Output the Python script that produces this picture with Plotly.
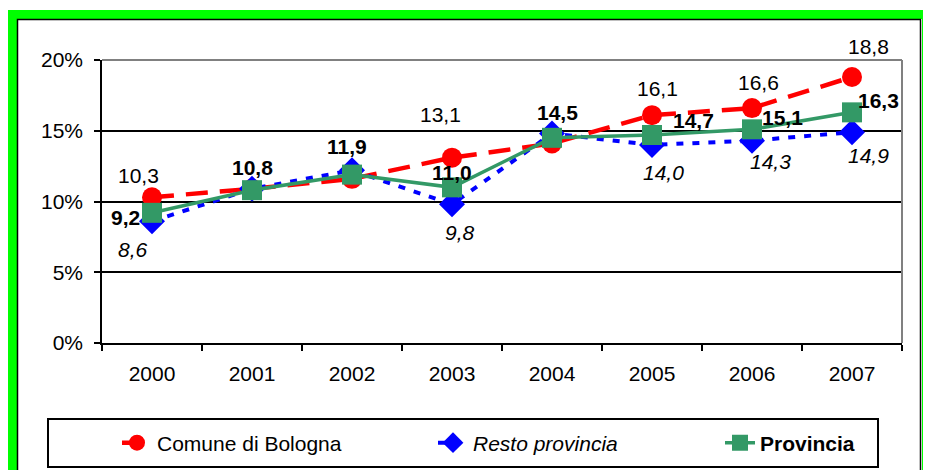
import plotly.graph_objects as go

years = ["2000", "2001", "2002", "2003", "2004", "2005", "2006", "2007"]
comune = [10.3, 10.9, 11.6, 13.1, 14.1, 16.1, 16.6, 18.8]
resto = [8.6, 10.9, 12.2, 9.8, 14.8, 14.0, 14.3, 14.9]
provincia = [9.2, 10.8, 11.9, 11.0, 14.5, 14.7, 15.1, 16.3]
y_ticks = [0, 5, 10, 15, 20]
y_tick_labels = [f"{v}%" for v in y_ticks]

# which points carry a data label
comune_labeled = [0, 3, 5, 6, 7]
resto_labeled = [0, 3, 5, 6, 7]
provincia_labeled = [0, 1, 2, 3, 4, 5, 6, 7]

# label offsets in pixels (style only)
comune_off = {0: (-14, 22), 3: (-12, 43), 5: (5, 27), 6: (6, 26), 7: (16, 30)}
resto_off = {0: (-19, -28), 3: (8, -28), 5: (11, -28), 6: (18, -21), 7: (16, -23)}
prov_off = {0: (-27, -5), 1: (0, 23), 2: (-5, 28), 3: (0, 15), 4: (5, 25),
            5: (41, 15), 6: (30, 12), 7: (26, 12)}

RED = "#FF0000"
BLUE = "#0000FF"
GREEN = "#339966"
FONT = "Liberation Sans, Arial, sans-serif"
FS = 21

def fmt(v):
    return f"{v:.1f}".replace(".", ",")

# page body has an 8px margin: figure is sized/positioned to fill the window
OFF = 8
W, H = 931 - OFF, 470 - OFF
L, R, T, B = 102 - OFF, 29, 60 - OFF, 127
PW, PH = W - L - R, H - T - B

def px_x(p):  # screen px -> paper x
    return (p - OFF - L) / PW

def px_y(p):  # screen px -> paper y
    return (H - B - (p - OFF)) / PH

fig = go.Figure()
fig.add_trace(go.Scatter(
    x=years, y=comune, name="Comune di Bologna", mode="lines+markers",
    line=dict(color=RED, width=4.5, dash="22px,12px"),
    marker=dict(symbol="circle", size=20, color=RED), legend="legend"))
fig.add_trace(go.Scatter(
    x=years, y=resto, name="<i>Resto provincia</i>", mode="lines+markers",
    line=dict(color=BLUE, width=4, dash="7px,9px"),
    marker=dict(symbol="diamond", size=20, color=BLUE), legend="legend2"))
fig.add_trace(go.Scatter(
    x=years, y=provincia, name="<b>Provincia</b>", mode="lines+markers",
    line=dict(color=GREEN, width=3.5),
    marker=dict(symbol="square", size=20, color=GREEN), legend="legend3"))

annotations = []
# annotation x uses the category's serial index on the category axis
for idx in comune_labeled:
    dx, dy = comune_off[idx]
    annotations.append(dict(x=idx, y=comune[idx], text=fmt(comune[idx]),
                            xref="x", yref="y", showarrow=False, xshift=dx, yshift=dy,
                            font=dict(size=FS, color="black", family=FONT)))
for idx in resto_labeled:
    dx, dy = resto_off[idx]
    annotations.append(dict(x=idx, y=resto[idx], text="<i>" + fmt(resto[idx]) + "</i>",
                            xref="x", yref="y", showarrow=False, xshift=dx, yshift=dy,
                            font=dict(size=FS, color="black", family=FONT)))
for idx in provincia_labeled:
    dx, dy = prov_off[idx]
    annotations.append(dict(x=idx, y=provincia[idx], text="<b>" + fmt(provincia[idx]) + "</b>",
                            xref="x", yref="y", showarrow=False, xshift=dx, yshift=dy,
                            font=dict(size=FS, color="black", family=FONT)))

shapes = [
    # green frame
    dict(type="rect", xref="paper", yref="paper",
         x0=px_x(12.5), x1=px_x(926.5), y0=px_y(500), y1=px_y(14.5),
         line=dict(color="#00FF00", width=9), layer="below"),
    dict(type="rect", xref="paper", yref="paper",
         x0=px_x(17.5), x1=px_x(920.5), y0=px_y(500), y1=px_y(19.5),
         line=dict(color="black", width=1.5), layer="below"),
    # plot area top/right border (gray)
    dict(type="line", xref="paper", yref="paper", x0=0, x1=1, y0=1, y1=1,
         line=dict(color="#808080", width=2), layer="above"),
    dict(type="line", xref="paper", yref="paper", x0=1, x1=1, y0=0, y1=1,
         line=dict(color="#808080", width=2), layer="above"),
    # legend box
    dict(type="rect", xref="paper", yref="paper",
         x0=px_x(48), x1=px_x(878), y0=px_y(467), y1=px_y(419),
         line=dict(color="black", width=2), fillcolor="white", layer="below"),
]

def leg(screen_x):
    return dict(orientation="h", x=px_x(screen_x), y=px_y(443), xanchor="left",
                yanchor="middle", bgcolor="rgba(0,0,0,0)", borderwidth=0,
                font=dict(size=FS, family=FONT, color="black"))

fig.update_layout(
    width=W, height=H,
    margin=dict(l=L, r=R, t=T, b=B, autoexpand=False),
    paper_bgcolor="white", plot_bgcolor="white",
    font=dict(family=FONT, size=FS, color="black"),
    showlegend=True,
    legend=leg(117),
    legend2=leg(433),
    legend3=leg(720),
    xaxis=dict(type="category", categoryorder="array", categoryarray=years,
               range=[-0.5, 7.5], showline=True, linecolor="black", linewidth=1.5,
               ticks="outside", tickson="boundaries", ticklen=6, tickcolor="black",
               tickwidth=1.5, showgrid=False, tickfont=dict(size=FS), fixedrange=True,
               ticklabelstandoff=11),
    yaxis=dict(range=[0, 20], tickmode="array", tickvals=y_ticks, ticktext=y_tick_labels,
               showline=True, linecolor="black", linewidth=1.5, ticks="outside", ticklen=6,
               tickcolor="black", tickwidth=1.5, showgrid=True, gridcolor="black",
               gridwidth=1.5, zeroline=False, tickfont=dict(size=FS), fixedrange=True,
               ticklabelstandoff=7),
    shapes=shapes,
    annotations=annotations,
)

fig.write_html("out.html")
